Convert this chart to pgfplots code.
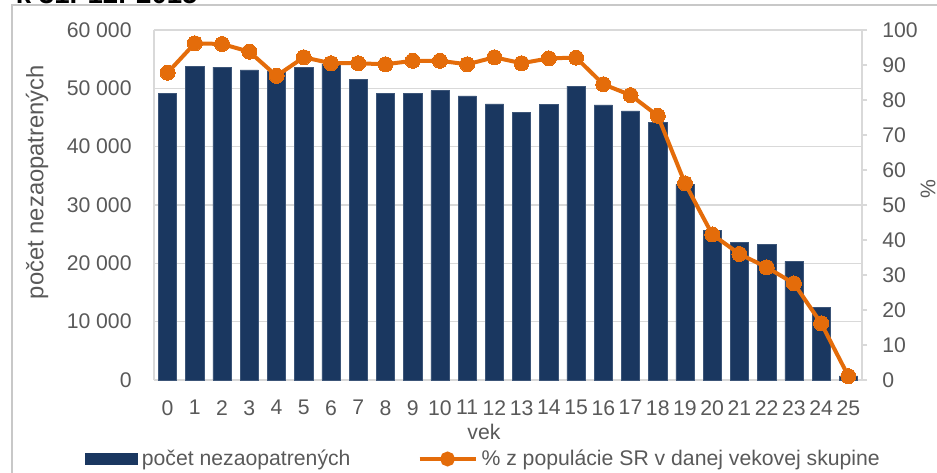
\documentclass[border=0pt]{standalone}
\usepackage{fontspec}
\setmainfont{Liberation Sans}
\usepackage{pgfplots}
\pgfplotsset{compat=1.18}
\definecolor{navy}{HTML}{1A3760}
\definecolor{orng}{HTML}{E46C0A}
\definecolor{txt}{HTML}{595959}
\definecolor{grd}{HTML}{D9D9D9}
\definecolor{brd}{HTML}{C8C8C8}
\newcommand{\tfont}{\fontsize{10.6}{12}\selectfont}
\begin{document}
\begin{tikzpicture}[x=1pt,y=1pt]
\draw[brd, line width=0.6pt] (6pt,-5pt) -- (6pt,233.5pt) -- (480pt,233.5pt);
\node[anchor=base west, inner sep=0pt, font=\fontsize{13.8}{16}\selectfont\bfseries] at (7.8pt,234.4pt) {k 31. 12. 2015};
\begin{axis}[
  at={(77pt,46pt)}, anchor=south west,
  scale only axis, width=354pt, height=175pt,
  xmin=-0.5, xmax=25.5, ymin=0, ymax=60000,
  axis x line*=bottom, axis y line*=left,
  axis line style={grd, line width=0.75pt},
  xtick={0,...,25},
  ytick={0,10000,20000,30000,40000,50000,60000},
  yticklabels={0,10 000,20 000,30 000,40 000,50 000,60 000},
  scaled y ticks=false,
  major tick length=0pt,
  ymajorgrids, grid style={grd, line width=0.75pt},
  /pgf/number format/assume math mode=true,
  tick label style={font=\tfont, text=txt},
  xticklabel style={anchor=north, inner sep=0pt, yshift=-10pt},
  yticklabel style={anchor=east, inner sep=0pt, xshift=-11pt},
  xlabel={vek},
  xlabel style={at={(axis description cs:0.466,-0.1486)}, anchor=center, font=\tfont, text=txt, inner sep=0pt},
  ylabel={počet nezaopatrených},
  ylabel style={at={(axis description cs:-0.1653,0.5657)}, anchor=center, font=\fontsize{11.9}{13}\selectfont, text=txt, inner sep=0pt},
  clip=false,
]
\addplot[ybar, bar width=0.67, fill=navy, draw=navy!85!white, line width=0.3pt] coordinates {
(0,49100) (1,53800) (2,53650) (3,53150) (4,53000) (5,53550) (6,54200) (7,51550)
(8,49100) (9,49150) (10,49600) (11,48700) (12,47350) (13,45900) (14,47250) (15,50400)
(16,47150) (17,46150) (18,44150) (19,33550) (20,25600) (21,23650) (22,23250) (23,20350)
(24,12450) (25,700)};
\end{axis}
\begin{axis}[
  at={(77pt,46pt)}, anchor=south west,
  scale only axis, width=354pt, height=175pt,
  xmin=-0.5, xmax=25.5, ymin=0, ymax=100,
  axis x line=none, axis y line*=right,
  axis line style={grd, line width=0.75pt},
  ytick={0,10,...,100},
  tick align=outside, major tick length=2.5pt,
  y tick style={grd, line width=0.6pt},
  /pgf/number format/assume math mode=true,
  tick label style={font=\tfont, text=txt},
  yticklabel style={anchor=west, inner sep=0pt, xshift=7.5pt},
  ylabel={\%},
  ylabel style={at={(axis description cs:1.0932,0.5457)}, anchor=center, rotate=0, font=\tfont, text=txt, inner sep=0pt},
  clip=false,
  legend columns=2,
  legend style={at={(0.4668,-0.2257)}, anchor=center, draw=none, fill=none, font=\tfont, text=txt,
    /tikz/every even column/.append style={column sep=31.5pt}},
]
\addlegendimage{legend image code/.code={\fill[navy] (0pt,-2.75pt) rectangle (26pt,2.75pt);}}
\addlegendentry{počet nezaopatrených}
\addplot[orng, line width=2pt, mark=*, mark size=3.75pt, mark options={fill=orng, draw=orng, line width=0pt},
  legend image code/.code={\draw[orng, line width=2pt] (0pt,0pt) -- (28pt,0pt); \fill[orng] (14pt,0pt) circle (2.7pt);}] coordinates {
(0,87.8) (1,96.2) (2,96.0) (3,93.8) (4,86.9) (5,92.2) (6,90.5) (7,90.5)
(8,90.2) (9,91.2) (10,91.2) (11,90.2) (12,92.2) (13,90.5) (14,91.9) (15,92.1)
(16,84.5) (17,81.4) (18,75.5) (19,56.2) (20,41.6) (21,36.0) (22,32.2) (23,27.6)
(24,16.2) (25,1.1)};
\addlegendentry{\% z populácie SR v danej vekovej skupine}
\end{axis}
\pgfresetboundingbox
\useasboundingbox (0,0) rectangle (468.5pt,236pt);
\end{tikzpicture}
\end{document}
